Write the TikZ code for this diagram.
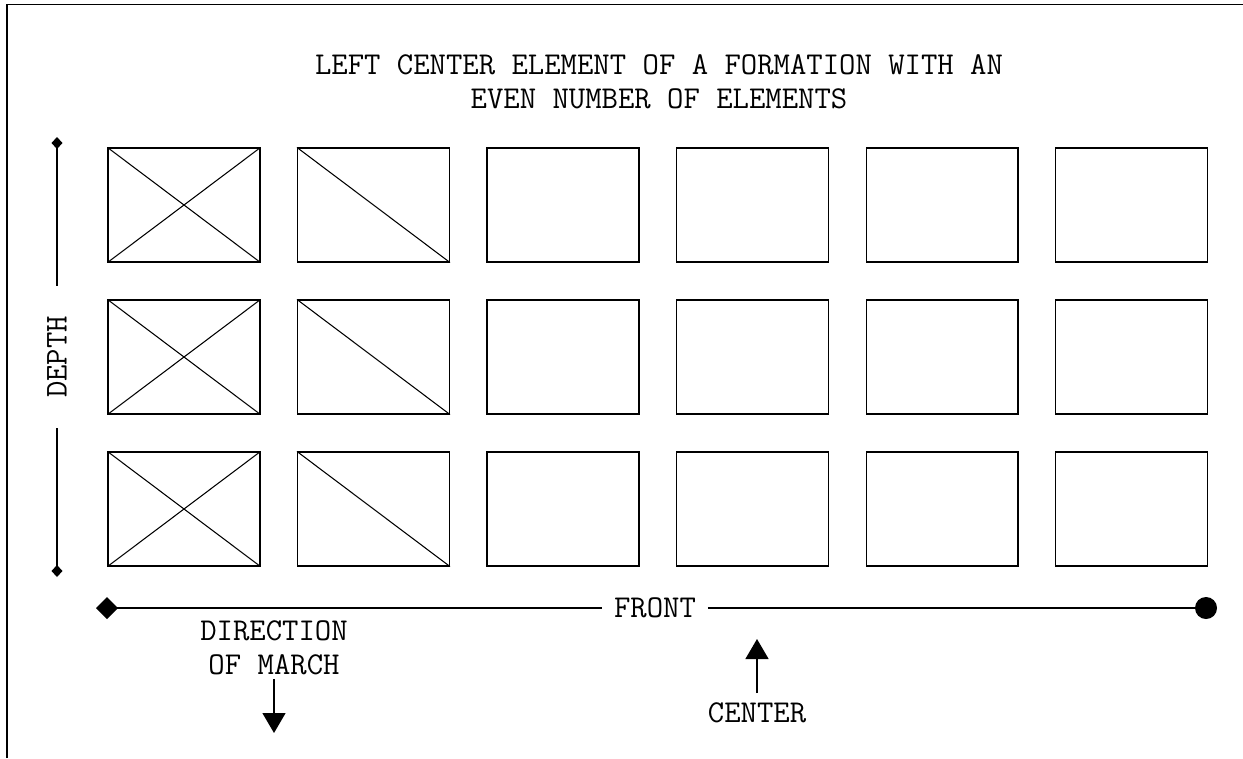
\documentclass[tikz,border=0pt]{standalone}
\usepackage{fontspec}
\usetikzlibrary{arrows.meta}
\begin{document}
\begin{tikzpicture}[x=0.02cm,y=-0.02cm,
  elem/.style={draw,line width=0.6pt,minimum width=3.04cm,minimum height=2.28cm,inner sep=0pt},
  lbl/.style={font=\ttfamily\fontsize{18.1}{19.3}\selectfont,align=center},
  axis/.style={line width=0.8pt}]
  \useasboundingbox (0,0) rectangle (1243,758);
  \draw[line width=0.9pt] (7,758) -- (7,4.5) -- (1243,4.5);
  \node[lbl] (title) at (659,82) {LEFT CENTER ELEMENT OF A FORMATION WITH AN\\EVEN NUMBER OF ELEMENTS};
  % formation: three ranks of six elements
  \foreach \r in {1,2,3}
    \foreach \c in {1,...,6}
      \node[elem] (b-\r-\c) at ({184+189.5*(\c-1)},{205+152*(\r-1)}) {};
  \foreach \r in {1,2,3} {
    \draw[line width=0.6pt] (b-\r-1.north west) -- (b-\r-1.south east)
                            (b-\r-1.south west) -- (b-\r-1.north east);
    \draw[line width=0.6pt] (b-\r-2.north west) -- (b-\r-2.south east);
  }
  % depth
  \coordinate (dtop) at (57,137);
  \coordinate (dbot) at (57,577);
  \node[lbl,rotate=90,inner xsep=0.6cm] (depth) at (57,357) {DEPTH};
  \draw[axis,{Diamond[length=0.24cm,width=0.22cm]}-] (dtop) -- (depth);
  \draw[axis,-{Diamond[length=0.24cm,width=0.22cm]}] (depth) -- (dbot);
  % front
  \coordinate (fl) at (96,608);
  \coordinate (fr) at (1217,608);
  \node[lbl,inner xsep=0.23cm] (front) at (655,608) {FRONT};
  \draw[axis,{Diamond[length=0.44cm,width=0.44cm]}-] (fl) -- (front);
  \draw[axis,-{Circle[length=0.44cm]}] (front) -- (fr);
  % direction of march and center
  \node[lbl,inner sep=2pt,anchor=south] (dir) at (274,679) {DIRECTION\\OF MARCH};
  \coordinate (dirtip) at (274,733);
  \draw[axis,-{Triangle[length=0.4cm,width=0.46cm]}] (dir) -- (dirtip);
  \node[lbl,inner xsep=2pt,inner ysep=5.5pt,anchor=north] (ctr) at (757,693) {CENTER};
  \coordinate (ctip) at (757,639);
  \draw[axis,-{Triangle[length=0.4cm,width=0.46cm]}] (ctr) -- (ctip);
\end{tikzpicture}
\end{document}
